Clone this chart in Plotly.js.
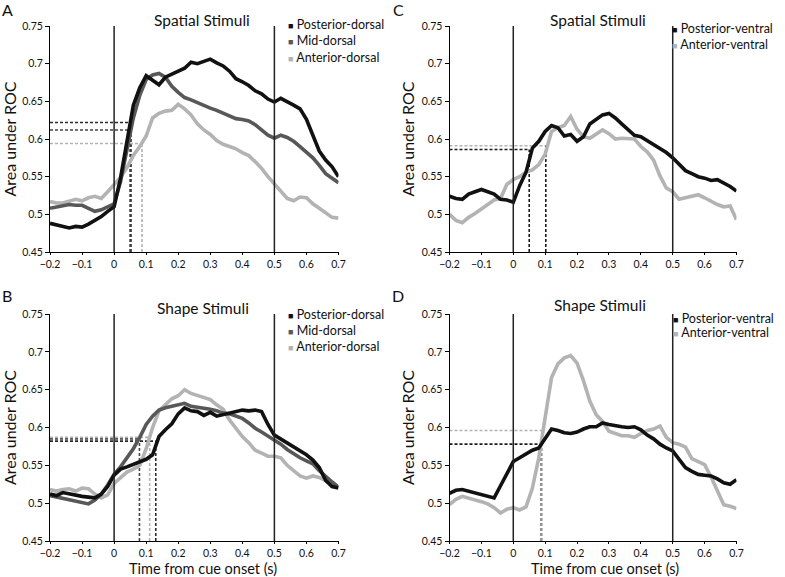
<!DOCTYPE html>
<html><head><meta charset="utf-8">
<script src="https://cdn.plot.ly/plotly-3.0.1.min.js"></script>
<style>html,body{margin:0;padding:0;background:#fff}</style>
</head><body><div id="chart" style="width:785px;height:577px"></div>
<script>
// ---------- data ----------
const time = [-0.20,-0.18,-0.16,-0.14,-0.12,-0.10,-0.08,-0.06,-0.04,-0.02,0.00,0.02,0.04,0.06,0.08,0.10,0.12,0.14,0.16,0.18,0.20,0.22,0.24,0.26,0.28,0.30,0.32,0.34,0.36,0.38,0.40,0.42,0.44,0.46,0.48,0.50,0.52,0.54,0.56,0.58,0.60,0.62,0.64,0.66,0.68,0.70];
const timeTicks = [-0.2,-0.1,0,0.1,0.2,0.3,0.4,0.5,0.6,0.7];
const timeTickText = ["\u22120.2","\u22120.1","0","0.1","0.2","0.3","0.4","0.5","0.6","0.7"];
const aucTicks = [0.45,0.5,0.55,0.6,0.65,0.7,0.75];
const aucTickText = ["0.45","0.5","0.55","0.6","0.65","0.7","0.75"];
const eventTimes = [0, 0.5];

// Panel A: spatial stimuli, dorsal
const A_posterior = [0.488,0.486,0.484,0.482,0.484,0.483,0.487,0.492,0.497,0.504,0.510,0.548,0.600,0.645,0.668,0.684,0.678,0.672,0.682,0.686,0.690,0.694,0.702,0.700,0.703,0.706,0.701,0.697,0.690,0.680,0.676,0.671,0.664,0.660,0.653,0.649,0.654,0.650,0.645,0.640,0.626,0.605,0.584,0.572,0.563,0.550];
const A_mid = [0.508,0.510,0.512,0.513,0.512,0.512,0.508,0.504,0.506,0.510,0.514,0.543,0.588,0.628,0.658,0.679,0.685,0.687,0.682,0.670,0.662,0.655,0.652,0.648,0.644,0.641,0.638,0.634,0.630,0.627,0.626,0.624,0.619,0.612,0.605,0.601,0.605,0.602,0.597,0.590,0.583,0.575,0.565,0.554,0.548,0.542];
const A_anterior = [0.517,0.515,0.515,0.518,0.520,0.518,0.522,0.524,0.521,0.530,0.540,0.549,0.562,0.578,0.590,0.604,0.628,0.634,0.637,0.638,0.646,0.640,0.632,0.620,0.612,0.606,0.598,0.593,0.590,0.587,0.582,0.578,0.570,0.561,0.550,0.540,0.530,0.521,0.518,0.523,0.522,0.514,0.508,0.502,0.496,0.495];
const A_onset = [0.050,0.053,0.087];
const A_threshold = [0.622,0.612,0.594];

// Panel B: shape stimuli, dorsal
const B_posterior = [0.512,0.510,0.514,0.512,0.510,0.509,0.508,0.507,0.512,0.522,0.537,0.545,0.548,0.551,0.554,0.558,0.564,0.588,0.597,0.605,0.618,0.626,0.622,0.621,0.616,0.620,0.615,0.617,0.620,0.621,0.623,0.622,0.623,0.621,0.604,0.590,0.585,0.580,0.575,0.570,0.564,0.557,0.547,0.530,0.522,0.520];
const B_mid = [0.510,0.508,0.506,0.505,0.503,0.501,0.499,0.504,0.512,0.524,0.538,0.548,0.560,0.572,0.587,0.604,0.615,0.623,0.626,0.628,0.631,0.632,0.628,0.627,0.625,0.624,0.622,0.619,0.618,0.615,0.612,0.606,0.599,0.594,0.589,0.584,0.578,0.571,0.565,0.560,0.556,0.552,0.543,0.535,0.528,0.521];
const B_anterior = [0.518,0.516,0.518,0.519,0.516,0.520,0.519,0.512,0.507,0.511,0.526,0.534,0.541,0.545,0.550,0.572,0.600,0.622,0.630,0.638,0.642,0.650,0.645,0.642,0.639,0.637,0.630,0.624,0.610,0.598,0.588,0.580,0.570,0.566,0.562,0.562,0.560,0.550,0.543,0.536,0.533,0.536,0.534,0.530,0.526,0.521];
const B_onset = [0.130,0.079,0.111];
const B_threshold = [0.582,0.585,0.587];

// Panel C: spatial stimuli, ventral
const C_posterior = [0.524,0.521,0.520,0.527,0.530,0.533,0.530,0.527,0.520,0.519,0.516,0.538,0.556,0.588,0.597,0.610,0.618,0.615,0.604,0.606,0.597,0.603,0.620,0.626,0.632,0.634,0.628,0.620,0.612,0.605,0.603,0.598,0.593,0.588,0.582,0.575,0.566,0.558,0.554,0.550,0.548,0.545,0.546,0.542,0.537,0.531];
const C_anterior = [0.500,0.492,0.489,0.496,0.501,0.507,0.514,0.519,0.521,0.540,0.546,0.550,0.556,0.559,0.566,0.580,0.610,0.615,0.618,0.630,0.613,0.603,0.601,0.606,0.612,0.607,0.600,0.601,0.601,0.600,0.590,0.583,0.572,0.551,0.535,0.530,0.520,0.522,0.524,0.526,0.522,0.517,0.513,0.510,0.511,0.493];
const C_onset = [0.050,0.102];
const C_threshold = [0.586,0.591];

// Panel D: shape stimuli, ventral
const D_posterior = [0.513,0.517,0.518,0.516,0.513,0.511,0.510,0.507,0.523,0.538,0.555,0.560,0.565,0.570,0.573,0.586,0.598,0.596,0.593,0.592,0.594,0.598,0.601,0.601,0.606,0.604,0.602,0.601,0.600,0.601,0.597,0.590,0.585,0.578,0.573,0.569,0.558,0.547,0.542,0.538,0.537,0.536,0.532,0.527,0.525,0.531];
const D_anterior = [0.498,0.505,0.509,0.507,0.504,0.502,0.499,0.494,0.487,0.492,0.494,0.491,0.495,0.520,0.560,0.615,0.666,0.684,0.692,0.695,0.685,0.662,0.635,0.617,0.608,0.595,0.592,0.589,0.589,0.587,0.592,0.596,0.598,0.602,0.587,0.580,0.578,0.574,0.559,0.555,0.551,0.535,0.515,0.498,0.496,0.493];
const D_onset = [0.088,0.090];
const D_threshold = [0.578,0.596];

const dorsalNames = ["Posterior-dorsal","Mid-dorsal","Anterior-dorsal"];
const ventralNames = ["Posterior-ventral","Anterior-ventral"];

// ---------- styles ----------
const C_BLACK = "#111111", C_MID = "#585858", C_LIGHT = "#b3b3b3";
const FONT = "Lato, 'Open Sans', sans-serif";
const W = 785, H = 577;
const xLeft = [50/W, 338.5/W], xRight = [449.5/W, 736.5/W];
const yTop = [1-252/H, 1-26/H], yBot = [1-541/H, 1-314/H];

const traces = [];
function addPanel(xa, ya, series, colors, onsets, thresholds, hCols, vCols) {
  const x0 = timeTicks[0], y0 = aucTicks[0];
  for (let i = 0; i < onsets.length; i++) {
    traces.push({x:[x0, onsets[i]], y:[thresholds[i], thresholds[i]], xaxis:xa, yaxis:ya, mode:"lines",
      line:{color:hCols[i], width:1.6, dash:"3px,2px"}, showlegend:false, hoverinfo:"skip"});
    traces.push({x:[onsets[i], onsets[i]], y:[y0, thresholds[i]], xaxis:xa, yaxis:ya, mode:"lines",
      line:{color:vCols[i], width:1.6, dash:"3px,2px"}, showlegend:false, hoverinfo:"skip"});
  }
  for (let i = series.length-1; i >= 0; i--) {
    traces.push({x:time, y:series[i], xaxis:xa, yaxis:ya, mode:"lines",
      line:{color:colors[i], width:3.6}, showlegend:false});
  }
}
addPanel("x","y",[A_posterior,A_mid,A_anterior],[C_BLACK,C_MID,C_LIGHT],A_onset,A_threshold,
  ["#2a2a2a","#444444",C_LIGHT],["#2a2a2a","#444444",C_LIGHT]);
addPanel("x2","y2",[B_posterior,B_mid,B_anterior],[C_BLACK,C_MID,C_LIGHT],B_onset,B_threshold,
  ["#2a2a2a","#444444",C_LIGHT],["#2a2a2a","#444444",C_LIGHT]);
addPanel("x3","y3",[C_posterior,C_anterior],[C_BLACK,C_LIGHT],C_onset,C_threshold,
  ["#1a1a1a",C_LIGHT],["#1a1a1a","#1a1a1a"]);
addPanel("x4","y4",[D_posterior,D_anterior],[C_BLACK,C_LIGHT],D_onset,D_threshold,
  ["#1a1a1a",C_LIGHT],["#1a1a1a",C_LIGHT]);

function xAxis(domain, anchor) {
  return {domain, anchor, range:[timeTicks[0], timeTicks[timeTicks.length-1]], tickmode:"array",
    tickvals:timeTicks, ticktext:timeTickText, showline:true, linecolor:"#000", linewidth:1,
    ticks:"outside", ticklen:2, tickcolor:"#000", showgrid:false, zeroline:false,
    tickfont:{family:FONT, size:10.5, color:"#111"}};
}
function yAxis(domain, anchor) {
  return {domain, anchor, range:[aucTicks[0], aucTicks[aucTicks.length-1]], tickmode:"array",
    tickvals:aucTicks, ticktext:aucTickText, showline:true, linecolor:"#000", linewidth:1,
    ticks:"outside", ticklen:4, tickcolor:"#000", showgrid:false, zeroline:false,
    tickfont:{family:FONT, size:10.5, color:"#111"},
    title:{text:"Area under ROC", font:{family:FONT, size:16, color:"#111"}, standoff:3}};
}

const shapes = [];
[["x","y"],["x2","y2"],["x3","y3"],["x4","y4"]].forEach(([xa,ya]) => {
  eventTimes.forEach(t => shapes.push({type:"line", xref:xa, yref:ya+" domain", x0:t, x1:t, y0:0, y1:1,
    line:{color:"#222", width:1.5}}));
});

const ann = [];
function txt(text, px, py, size, xanchor, extra) {
  ann.push(Object.assign({text, x:px/W, y:1-py/H, xref:"paper", yref:"paper", showarrow:false,
    xanchor:xanchor||"center", yanchor:"middle", borderpad:0,
    font:{family:FONT, size, color:"#111"}}, extra||{}));
}
// panel letters
txt("A", 7, 10, 16); txt("C", 398, 10, 16); txt("B", 7, 295, 16); txt("D", 398, 295, 16);
// titles
txt("Spatial Stimuli", 202, 20, 15.5); txt("Spatial Stimuli", 598, 20, 15.5);
txt("Shape Stimuli", 203, 308, 15.5); txt("Shape Stimuli", 600, 305, 15.5);
// x titles
txt("Time from cue onset (s)", 203, 568, 14.5); txt("Time from cue onset (s)", 605, 568, 14.5);
// legends
function legendEntry(name, color, px, py) {
  txt('<span style="color:'+color+';font-size:9px">\u25A0</span> '+name, px, py, 12.5, "left");
}
const dCols = [C_BLACK, C_MID, C_LIGHT], vCols2 = [C_BLACK, C_LIGHT];
dorsalNames.forEach((n,i) => legendEntry(n, dCols[i], 287, 25+i*16));
dorsalNames.forEach((n,i) => legendEntry(n, dCols[i], 287, 315+i*15.7));
ventralNames.forEach((n,i) => legendEntry(n, vCols2[i], 671, 28+i*16));
ventralNames.forEach((n,i) => legendEntry(n, vCols2[i], 672, 318+i*14.5));

const layout = {
  width:W, height:H, margin:{l:0,r:0,t:0,b:0}, paper_bgcolor:"#fff", plot_bgcolor:"#fff",
  showlegend:false, font:{family:FONT, color:"#111"},
  xaxis:xAxis(xLeft,"y"), yaxis:yAxis(yTop,"x"),
  xaxis2:xAxis(xLeft,"y2"), yaxis2:yAxis(yBot,"x2"),
  xaxis3:xAxis(xRight,"y3"), yaxis3:yAxis(yTop,"x3"),
  xaxis4:xAxis(xRight,"y4"), yaxis4:yAxis(yBot,"x4"),
  shapes, annotations:ann
};
Plotly.newPlot("chart", traces, layout, {displayModeBar:false, staticPlot:true});
</script></body></html>
